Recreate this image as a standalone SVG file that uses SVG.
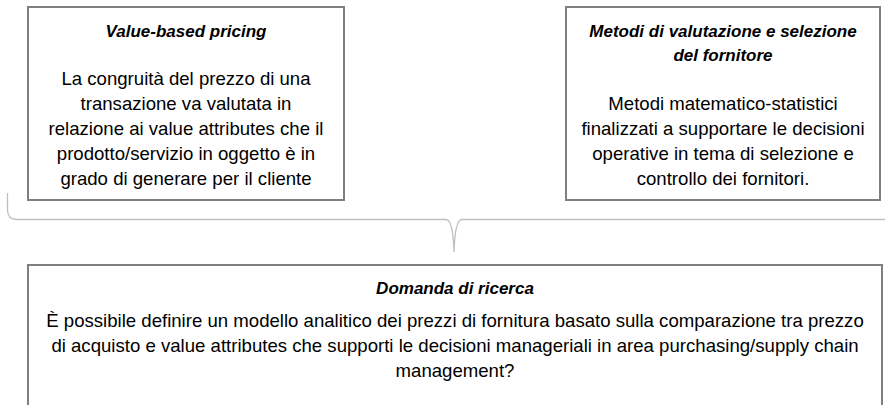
<svg xmlns="http://www.w3.org/2000/svg" width="885" height="405" viewBox="0 0 885 405">
<style>
.box{fill:#ffffff;stroke:#7f7f7f;stroke-width:2}
.t{font-family:"Liberation Sans",Arial,sans-serif;fill:#000;text-anchor:middle}
.h{font-size:17px;font-weight:bold;font-style:italic}
.b{font-size:18.6px}
.brace{fill:none;stroke:#bfbfbf;stroke-width:1.3}
</style>
<rect width="885" height="405" fill="#ffffff"/>
<g id="connectors">
<path class="brace" d="M7.5,193 L7.5,210 Q7.5,219.5 17,219.5 L446,219.5 Q453,219.5 454,252 Q455,219.5 462,219.5 L886,219.5"/>
</g>
<g id="node-value-pricing">
<rect class="box" x="28" y="7" width="316" height="193"/>
<text class="t h" x="186" y="37">Value-based pricing</text>
<text class="t b" x="186" y="85">La congruità del prezzo di una</text>
<text class="t b" x="186" y="110">transazione va valutata in</text>
<text class="t b" x="186" y="135">relazione ai value attributes che il</text>
<text class="t b" x="186" y="160">prodotto/servizio in oggetto è in</text>
<text class="t b" x="186" y="185">grado di generare per il cliente</text>
</g>
<g id="node-metodi">
<rect class="box" x="566" y="7" width="314" height="193"/>
<text class="t h" x="723" y="37">Metodi di valutazione e selezione</text>
<text class="t h" x="723" y="61">del fornitore</text>
<text class="t b" x="723" y="110">Metodi matematico-statistici</text>
<text class="t b" x="723" y="135">finalizzati a supportare le decisioni</text>
<text class="t b" x="723" y="160">operative in tema di selezione e</text>
<text class="t b" x="723" y="185">controllo dei fornitori.</text>
</g>
<g id="node-domanda">
<rect class="box" x="28" y="265" width="854" height="160"/>
<text class="t h" x="455" y="294">Domanda di ricerca</text>
<text class="t b" x="455" y="327">È possibile definire un modello analitico dei prezzi di fornitura basato sulla comparazione tra prezzo</text>
<text class="t b" x="455" y="352">di acquisto e value attributes che supporti le decisioni manageriali in area purchasing/supply chain</text>
<text class="t b" x="455" y="377">management?</text>
</g>
</svg>
